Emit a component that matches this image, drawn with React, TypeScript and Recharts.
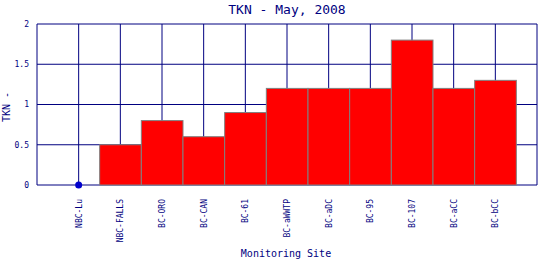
import React from 'react'
import { ComposedChart, Bar, Scatter, XAxis, YAxis, CartesianGrid } from 'recharts'

// sites in the order they appear along the creek
const sites = ['NBC-Lu', 'NBC-FALLS', 'BC-ORO', 'BC-CAN', 'BC-61', 'BC-aWWTP', 'BC-aDC', 'BC-95', 'BC-107', 'BC-aCC', 'BC-bCC']
// TKN (mg/L), 0 = not detected (drawn as a dot)
const tkn = [0, 0.5, 0.8, 0.6, 0.9, 1.2, 1.2, 1.2, 1.8, 1.2, 1.3]
const yTicks = [0, 0.5, 1, 1.5, 2]

const NAVY = '#000080'
const MONO = '"DejaVu Sans Mono", "Liberation Mono", monospace'
const PLOT_W = 500
const SLOT = PLOT_W / (sites.length + 1)

const barData = sites.map((site, i) => ({ x: i + 1, site, value: tkn[i] > 0 ? tkn[i] : null }))
const dotData = sites.map((site, i) => ({ x: i + 1, site, value: tkn[i] })).filter(d => d.value === 0)
const xTicks = Array.from({ length: sites.length + 2 }, (_, i) => i)

const SiteTick = ({ x, y, payload }: any) => {
  const name = sites[payload.value - 1]
  if (!name) return null
  return (
    <text
      transform={`translate(${x + 3}, ${y + 6}) rotate(-90)`}
      textAnchor="end"
      fill={NAVY}
      fontSize={8}
      fontFamily={MONO}
    >
      {name}
    </text>
  )
}

// bars touch each other: full slot width, centred on the library's bar position
const FullBar = ({ x, y, width, height }: any) => {
  if (!height) return null
  const cx = x + width / 2
  return <rect x={cx - SLOT / 2} y={y} width={SLOT} height={height} fill="#ff0000" stroke="#808080" strokeWidth={1} />
}

const Dot = ({ cx, cy }: any) => <circle cx={cx} cy={cy} r={3.5} fill="#0000cc" />

export default function App() {
  return (
    <div style={{ position: 'absolute', left: 0, top: 0, background: '#fff' }}>
      <ComposedChart
        width={540}
        height={260}
        data={barData}
        barCategoryGap={0}
        barGap={0}
        margin={{ top: 24, right: 3, bottom: 0, left: 0 }}
      >
        <CartesianGrid stroke={NAVY} strokeWidth={1} />
        <XAxis
          type="number"
          dataKey="x"
          domain={[0, sites.length + 1]}
          ticks={xTicks}
          interval={0}
          height={75}
          tickLine={false}
          axisLine={false}
          tick={<SiteTick />}
        />
        <YAxis
          domain={[0, 2]}
          ticks={yTicks}
          width={37}
          tickLine={false}
          axisLine={false}
          tickMargin={2}
          tick={{ fill: NAVY, fontSize: 8, fontFamily: MONO }}
        />
        <Bar dataKey="value" shape={<FullBar />} isAnimationActive={false} />
        <Scatter data={dotData} dataKey="value" shape={<Dot />} isAnimationActive={false} />
        <text x={287} y={14} textAnchor="middle" fill={NAVY} fontSize={13} fontFamily={MONO}>
          TKN - May, 2008
        </text>
        <text x={286} y={257} textAnchor="middle" fill={NAVY} fontSize={10} fontFamily={MONO}>
          Monitoring Site
        </text>
        <text transform="translate(10, 107) rotate(-90)" textAnchor="middle" fill={NAVY} fontSize={10} fontFamily={MONO}>
          TKN -
        </text>
      </ComposedChart>
    </div>
  )
}
